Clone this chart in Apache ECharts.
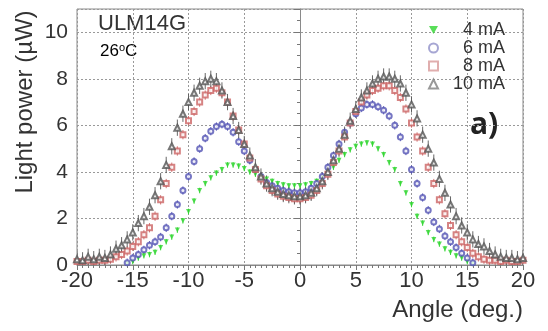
<!DOCTYPE html>
<html>
<head>
<meta charset="utf-8">
<script src="https://cdn.jsdelivr.net/npm/echarts@6/dist/echarts.min.js"></script>
<style>
  html, body { margin: 0; background: #fff; }
  #chart { width: 548px; height: 331px; }
</style>
</head>
<body>
<div id="chart"></div>
<script>
// angle (deg.) of each measured point
const angles = [
  -20, -19.5, -19, -18.5, -18, -17.5, -17, -16.5, -16,
  -15.5, -15, -14.5, -14, -13.5, -13, -12.5, -12, -11.5, -11,
  -10.5, -10, -9.5, -9, -8.5, -8, -7.5, -7, -6.5, -6,
  -5.5, -5, -4.5, -4, -3.5, -3, -2.5, -2, -1.5, -1,
  -0.5, 0, 0.5, 1, 1.5, 2, 2.5, 3, 3.5, 4,
  4.5, 5, 5.5, 6, 6.5, 7, 7.5, 8, 8.5, 9,
  9.5, 10, 10.5, 11, 11.5, 12, 12.5, 13, 13.5, 14,
  14.5, 15, 15.5,
  16, 16.5, 17, 17.5, 18, 18.5, 19, 19.5, 20
];

// light power (uW) per drive current
const p4mA = [
  null, null, null, null, null, null, null, null, null,
  0.05, 0.15, 0.3, 0.4, 0.45, 0.55, 0.75, 1.0, 1.2, 1.5,
  1.9, 2.3, 2.75, 3.2, 3.5, 3.75, 3.95, 4.1, 4.3, 4.3,
  4.25, 4.15, 4.0, 3.9, 3.8, 3.7, 3.6, 3.5, 3.45, 3.4,
  3.4, 3.4, 3.45, 3.5, 3.6, 3.75, 3.95, 4.2, 4.5, 4.75,
  4.95, 5.1, 5.2, 5.25, 5.2, 5.0, 4.75, 4.4, 4.1, 3.5,
  3.1, 2.6, 2.1, 1.8, 1.4, 1.1, 0.9, 0.7, 0.55, 0.4,
  0.3, 0.15, 0.05,
  null, null, null, null, null, null, null, null, null
];
const p6mA = [
  null, null, null, null, null, null, null, null, null,
  0.1, 0.3, 0.45, 0.65, 0.85, 1.0, 1.2, 1.6, 2.1, 2.6,
  3.2, 3.8, 4.45, 5.0, 5.45, 5.75, 5.95, 6.05, 5.95, 5.7,
  5.3, 4.9, 4.5, 4.1, 3.8, 3.55, 3.4, 3.3, 3.2, 3.15,
  3.1, 3.1, 3.15, 3.3, 3.5, 3.8, 4.2, 4.7, 5.2, 5.7,
  6.1, 6.5, 6.75, 6.9, 6.9, 6.8, 6.65, 6.4, 6.0, 5.5,
  4.9, 4.1, 3.5, 2.9, 2.35, 1.85, 1.55, 1.25, 1.0, 0.75,
  0.5, 0.3, 0.1,
  null, null, null, null, null, null, null, null, null
];
const p8mA = [
  0.15, 0.15, 0.2, 0.15, 0.2, 0.2, 0.25, 0.35, 0.45,
  0.6, 0.8, 1.0, 1.3, 1.6, 2.1, 2.8, 3.5, 4.2, 4.9,
  5.6, 6.2, 6.6, 7.0, 7.3, 7.5, 7.6, 7.4, 7.0, 6.4,
  5.8, 5.2, 4.6, 4.1, 3.7, 3.4, 3.2, 3.05, 2.95, 2.9,
  2.85, 2.85, 2.9, 3.0, 3.2, 3.5, 3.9, 4.4, 4.9, 5.5,
  6.1, 6.6, 7.0, 7.3, 7.5, 7.6, 7.7, 7.7, 7.5, 7.2,
  6.7, 6.1, 5.5, 4.9, 4.2, 3.5, 2.8, 2.2, 1.7, 1.3,
  1.0, 0.75, 0.5,
  0.35, 0.25, 0.2, 0.2, 0.15, 0.2, 0.15, 0.15, 0.2
];
const p10mA = [
  0.25, 0.2, 0.35, 0.25, 0.35, 0.3, 0.45, 0.7, 0.85,
  1.1, 1.4, 1.8, 2.1, 2.5, 3.0, 3.6, 4.3, 5.1, 5.9,
  6.5, 7.0, 7.4, 7.7, 7.9, 8.0, 7.9, 7.5, 7.0, 6.4,
  5.8, 5.2, 4.7, 4.2, 3.8, 3.5, 3.3, 3.15, 3.05, 3.0,
  2.95, 2.95, 3.0, 3.1, 3.3, 3.6, 4.0, 4.5, 5.0, 5.6,
  6.2, 6.7, 7.2, 7.5, 7.8, 8.0, 8.1, 8.1, 8.0, 7.8,
  7.4, 6.9, 6.3, 5.6, 5.0, 4.4, 3.7, 3.1, 2.6, 2.1,
  1.7, 1.4, 1.1,
  0.9, 0.8, 0.6, 0.45, 0.35, 0.3, 0.3, 0.25, 0.3
];

// half-length of the error bar for each series (uW)
const errors = [0.12, 0.18, 0.2, 0.35];
const names = ['4 mA', '6 mA', '8 mA', '10 mA'];
const powers = [p4mA, p6mA, p8mA, p10mA];

const colors = ['#2fd62f', '#5454b4', '#cc6464', '#555555'];
const legendColors = ['#2fd62f', '#9090c8', '#d89a9a', '#808080'];
const symbols = ['path://M0,0L10,0L5,9Z', 'emptyCircle', 'emptyRect', 'emptyTriangle'];
const sizes = [5, 5, 5, 6];
const FONT = '"Liberation Sans", Arial, sans-serif';

const pairs = (vals) => angles.map((a, i) => [a, vals[i]]).filter(d => d[1] != null);

const series = [];
powers.forEach((vals, k) => {
  // error bars
  series.push({
    type: 'custom',
    silent: true,
    clip: true,
    z: 2,
    data: pairs(vals),
    encode: { x: 0, y: 1 },
    renderItem: (params, api) => {
      const x = api.value(0), y = api.value(1);
      const a = api.coord([x, y - errors[k]]);
      const b = api.coord([x, y + errors[k]]);
      return {
        type: 'line',
        shape: { x1: a[0], y1: a[1], x2: b[0], y2: b[1] },
        style: { stroke: colors[k], lineWidth: 1, opacity: 0.9 }
      };
    }
  });
  series.push({
    name: names[k],
    type: 'scatter',
    z: 3,
    symbol: symbols[k],
    symbolSize: sizes[k],
    data: pairs(vals),
    itemStyle: k === 0
      ? { color: colors[k] }
      : { color: colors[k], borderColor: colors[k], borderWidth: 1 }
  });
});

const chart = echarts.init(document.getElementById('chart'), null, { renderer: 'canvas' });

chart.setOption({
  animation: false,
  backgroundColor: '#fff',
  grid: { left: 77, right: 25, top: 9, bottom: 66, show: true, borderColor: '#8a8a8a', borderWidth: 1 },
  xAxis: {
    type: 'value',
    min: -20, max: 20, interval: 5,
    name: 'Angle (deg.)',
    nameLocation: 'end',
    nameGap: 0,
    nameTextStyle: { fontFamily: FONT, fontSize: 24, color: '#333', align: 'right', verticalAlign: 'top', padding: [33, 0, 0, 0] },
    axisLine: { onZero: false, lineStyle: { color: '#8a8a8a' } },
    axisTick: { inside: false, length: 5, lineStyle: { color: '#777' } },
    minorTick: { show: true, splitNumber: 10, length: 3, lineStyle: { color: '#777' } },
    axisLabel: { fontFamily: FONT, fontSize: 22, color: '#333', margin: 5 },
    splitLine: { show: true, lineStyle: { color: '#999', type: [2, 2], width: 1 } }
  },
  yAxis: {
    type: 'value',
    min: 0, max: 11, interval: 2,
    axisLine: { lineStyle: { color: '#8a8a8a' } },
    axisTick: { inside: false, length: 6, lineStyle: { color: '#777' } },
    minorTick: { show: true, splitNumber: 4, length: 3, lineStyle: { color: '#777' } },
    axisLabel: {
      fontFamily: FONT, fontSize: 21, color: '#333', margin: 9,
      showMaxLabel: false,
      formatter: v => (v % 2 === 0 ? String(v) : '')
    },
    splitLine: { show: true, lineStyle: { color: '#999', type: [2, 2], width: 1 } }
  },
  legend: {
    orient: 'vertical',
    left: 428,
    top: 21,
    padding: 0,
    itemWidth: 9,
    itemHeight: 9,
    itemGap: 0,
    data: names.map((n, k) => ({
      name: n,
      icon: symbols[k],
      itemStyle: k === 0
        ? { color: legendColors[k] }
        : { color: legendColors[k], borderColor: legendColors[k], borderWidth: 1 }
    })),
    formatter: '{t|{name}}',
    textStyle: {
      color: '#333',
      fontSize: 18,
      lineHeight: 18,
      rich: { t: { fontFamily: FONT, fontSize: 18, lineHeight: 18, height: 18, width: 62, align: 'right', color: '#333' } }
    }
  },
  graphic: [
    {
      type: 'text', x: 25, y: 102, rotation: Math.PI / 2,
      style: { text: 'Light power (µW)', font: '24px ' + FONT, fill: '#333', textAlign: 'center', textVerticalAlign: 'middle' }
    },
    {
      type: 'text', left: 98, top: 13,
      style: { text: 'ULM14G', font: '22px ' + FONT, fill: '#333' }
    },
    {
      type: 'text', left: 100, top: 42,
      style: {
        text: '{n|26}{s|o}{n|C}',
        rich: {
          n: { fontFamily: FONT, fontSize: 17, color: '#333', verticalAlign: 'bottom' },
          s: { fontFamily: FONT, fontSize: 11, color: '#333', verticalAlign: 'top', padding: [0, 0, 7, 0] }
        }
      }
    },
    {
      type: 'text', left: 470, top: 110,
      style: { text: 'a)', font: 'bold 30px "Open Sans", ' + FONT, fill: '#222' }
    }
  ],
  series: series
});
</script>
</body>
</html>
